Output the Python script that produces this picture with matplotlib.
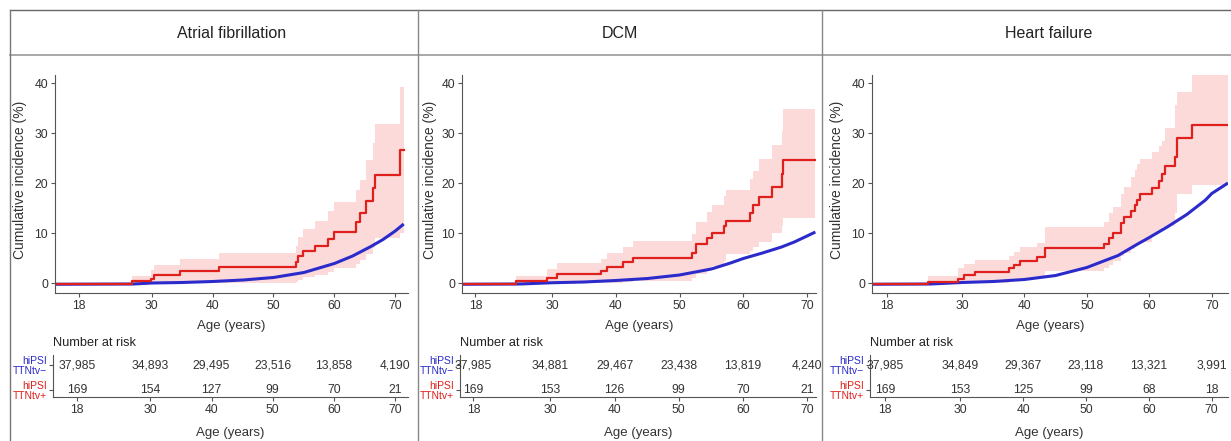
import matplotlib
matplotlib.use("Agg")
import matplotlib.pyplot as plt
from matplotlib.lines import Line2D

plt.rcParams['font.family'] = ['Liberation Sans', 'DejaVu Sans']

W, H = 1231, 441

titles = ["Atrial fibrillation", "DCM", "Heart failure"]
age_ticks = [18, 30, 40, 50, 60, 70]

# red (hiPSI TTNtv+) step curves with CI: step times, estimate, lower, upper
af_t = [14.1, 26.8, 29.8, 30.3, 34.7, 41.1, 53.7, 54.0, 54.8, 56.8, 58.9, 59.9,
        63.6, 64.2, 65.2, 66.4, 66.7, 70.8, 71.4]
af_est = [-0.25, 0.4, 0.9, 1.7, 2.4, 3.3, 4.3, 5.4, 6.5, 7.5, 8.9, 10.3,
          12.2, 14.1, 16.4, 19.1, 21.7, 26.7, 26.7]
af_lo = [-0.25, 0, 0, 0, 0, 0, 0.2, 0.6, 1.2, 1.6, 2.3, 3.0,
         3.8, 4.7, 5.8, 7.0, 9.0, 10.0, 10.0]
af_hi = [-0.25, 1.5, 2.6, 3.6, 4.9, 6.1, 7.5, 9.3, 10.9, 12.5, 14.4, 16.2,
         18.7, 20.7, 24.7, 28.0, 31.9, 39.2, 39.2]

dcm_t = [15.9, 24.4, 29.2, 30.8, 37.7, 38.7, 41.2, 42.7, 52.0, 52.6, 54.3, 55.1,
         56.9, 57.3, 61.1, 61.5, 62.4, 64.5, 66.0, 66.2, 71.3]
dcm_est = [-0.25, 0.5, 1.1, 1.8, 2.5, 3.3, 4.2, 5.0, 6.0, 7.9, 9.1, 10.1,
           11.4, 12.5, 14.0, 15.6, 17.2, 19.3, 21.8, 24.7, 24.7]
dcm_lo = [-0.25, 0, 0, 0, 0, 0.1, 0.3, 0.5, 1.0, 1.8, 2.8, 3.5,
          4.5, 5.8, 6.5, 7.2, 8.3, 10.1, 11.5, 13.0, 13.0]
dcm_hi = [-0.25, 1.5, 2.8, 4.0, 4.9, 6.0, 7.2, 8.5, 9.8, 12.2, 14.2, 15.6,
          17.5, 18.6, 20.9, 22.5, 24.8, 27.6, 30.5, 34.8, 34.8]

hf_t = [15.6, 24.6, 29.4, 30.4, 32.1, 37.5, 38.3, 39.3, 42.0, 43.3, 52.7, 53.5,
        54.2, 55.5, 56.0, 57.1, 57.7, 58.0, 58.5, 60.4, 61.5, 62.1, 62.5, 64.1,
        64.4, 66.8, 72.6]
hf_est = [-0.25, 0.3, 0.9, 1.6, 2.3, 3.0, 3.7, 4.5, 5.3, 7.1, 7.8, 9.0,
          10.0, 12.1, 13.3, 14.4, 15.6, 16.6, 17.8, 19.1, 20.4, 21.9, 23.4, 25.3,
          29.0, 31.7, 31.7]
hf_lo = [-0.25, 0, 0, 0, 0.1, 0.3, 0.5, 0.8, 1.1, 2.5, 3.0, 3.7,
         4.4, 5.5, 6.0, 6.8, 7.5, 8.0, 8.3, 9.8, 10.6, 11.2, 11.5, 14.0,
         17.9, 19.7, 19.7]
hf_hi = [-0.25, 1.5, 3.0, 3.8, 4.6, 5.4, 6.2, 7.2, 8.0, 11.3, 12.3, 14.1,
         15.3, 17.8, 19.3, 21.2, 22.7, 23.8, 24.9, 26.3, 27.5, 28.5, 31.0, 35.7,
         38.3, 41.8, 41.8]

# blue (hiPSI TTNtv-) curves
af_b_age = [14.1, 27, 30, 35, 40, 45, 50, 55, 60, 63, 66, 68, 70, 71.4]
af_b_val = [-0.25, -0.2, 0.0, 0.1, 0.3, 0.6, 1.1, 2.1, 3.9, 5.4, 7.3, 8.7, 10.4, 11.8]
dcm_b_age = [15.9, 25, 30, 35, 40, 45, 50, 55, 58, 60, 63, 66, 68, 70, 71.3]
dcm_b_val = [-0.25, -0.2, 0.05, 0.2, 0.5, 0.9, 1.6, 2.8, 4.0, 4.9, 6.0, 7.2, 8.2, 9.4, 10.2]
hf_b_age = [15.6, 25, 30, 35, 40, 45, 50, 55, 58, 60, 63, 66, 69, 70, 72.6]
hf_b_val = [-0.25, -0.2, 0.1, 0.3, 0.7, 1.5, 3.1, 5.5, 7.7, 9.1, 11.3, 13.7, 16.6, 17.9, 20.0]

# number at risk
af_neg = [37985, 34893, 29495, 23516, 13858, 4190]
af_pos = [169, 154, 127, 99, 70, 21]
dcm_neg = [37985, 34881, 29467, 23438, 13819, 4240]
dcm_pos = [169, 153, 126, 99, 70, 21]
hf_neg = [37985, 34849, 29367, 23118, 13321, 3991]
hf_pos = [169, 153, 125, 99, 68, 18]

panels = [
    (af_t, af_est, af_lo, af_hi, af_b_age, af_b_val, af_neg, af_pos),
    (dcm_t, dcm_est, dcm_lo, dcm_hi, dcm_b_age, dcm_b_val, dcm_neg, dcm_pos),
    (hf_t, hf_est, hf_lo, hf_hi, hf_b_age, hf_b_val, hf_neg, hf_pos),
]

# pixel layout
main_lr = [(55, 408), (462, 816), (872, 1228)]
tab_left = [53, 460, 870]
xlims = [(14.1, 72.1), (15.9, 71.4), (15.6, 72.6)]
title_x = [232, 620, 1049]
ylab_x = [20, 430, 837]

RED = '#e0201c'
PINK = '#fcdada'
BLUE = '#2b2bcc'
TXT = '#333333'
SPINE = '#555555'


def px(l, t, r, b):
    return [l / W, 1 - b / H, (r - l) / W, (b - t) / H]


def style(ax):
    for s in ['top', 'right']:
        ax.spines[s].set_visible(False)
    for s in ['left', 'bottom']:
        ax.spines[s].set_color(SPINE)
        ax.spines[s].set_linewidth(0.8)
    ax.tick_params(length=3, width=0.8, color=SPINE, labelcolor=TXT,
                   labelsize=8.7, pad=2)


fig = plt.figure(figsize=(W / 100, H / 100), dpi=100)

for i, (t, est, lo, hi, b_age, b_val, neg, pos) in enumerate(panels):
    l, r = main_lr[i]
    ax = fig.add_axes(px(l, 75, r, 293))
    style(ax)
    ax.fill_between(t, lo, hi, step='post', color=PINK, lw=0)
    ax.plot(b_age, b_val, color=BLUE, lw=2.2, solid_capstyle='butt')
    ax.step(t, est, where='post', color=RED, lw=1.6)
    ax.set_xlim(*xlims[i])
    ax.set_ylim(-2, 41.6)
    ax.set_xticks(age_ticks)
    ax.set_yticks([0, 10, 20, 30, 40])
    ax.set_xlabel("Age (years)", fontsize=9.5, color=TXT, labelpad=5.5)

    fig.text(ylab_x[i] / W, 1 - 180 / H, "Cumulative incidence (%)",
             rotation=90, ha='center', va='center', fontsize=10, color=TXT)
    fig.text(title_x[i] / W, 1 - 34 / H, titles[i], ha='center', va='center',
             fontsize=11.5, color='#222222')

    # risk table
    tl = tab_left[i]
    tx = fig.add_axes(px(tl, 355, r, 397))
    style(tx)
    tx.set_xlim(*xlims[i])
    tx.set_ylim(0.72, 2.4)
    tx.set_xticks(age_ticks)
    tx.set_yticks([2, 1])
    tx.set_yticklabels(["hiPSI\nTTNtv\u2212", "hiPSI\nTTNtv+"], fontsize=7.5,
                       linespacing=1.0, ha='right')
    tx.get_yticklabels()[0].set_color(BLUE)
    tx.get_yticklabels()[1].set_color(RED)
    tx.tick_params(axis='y', pad=1)
    for a, n1, n2 in zip(age_ticks, neg, pos):
        tx.text(a, 2, f"{n1:,}", ha='center', va='center', fontsize=8.7, color=TXT)
        tx.text(a, 1, f"{n2:,}", ha='center', va='center', fontsize=8.7, color=TXT)
    tx.set_xlabel("Age (years)", fontsize=9.5, color=TXT, labelpad=8)
    fig.text(tl / W, 1 - 343 / H, "Number at risk", ha='left', va='center',
             fontsize=9.2, color='#222222')

# panel frame lines
def fline(x0, y0, x1, y1, color, lw):
    fig.add_artist(Line2D([x0 / W, x1 / W], [1 - y0 / H, 1 - y1 / H],
                          color=color, lw=lw, transform=fig.transFigure))

fline(10, 10, W, 10, '#666666', 1.0)
fline(10, 55, W, 55, '#9a9a9a', 1.2)
fline(10, 10, 10, H, '#777777', 1.0)
fline(418, 10, 418, H, '#888888', 1.0)
fline(822, 10, 822, H, '#888888', 1.0)

fig.savefig("out.png", dpi=100)
